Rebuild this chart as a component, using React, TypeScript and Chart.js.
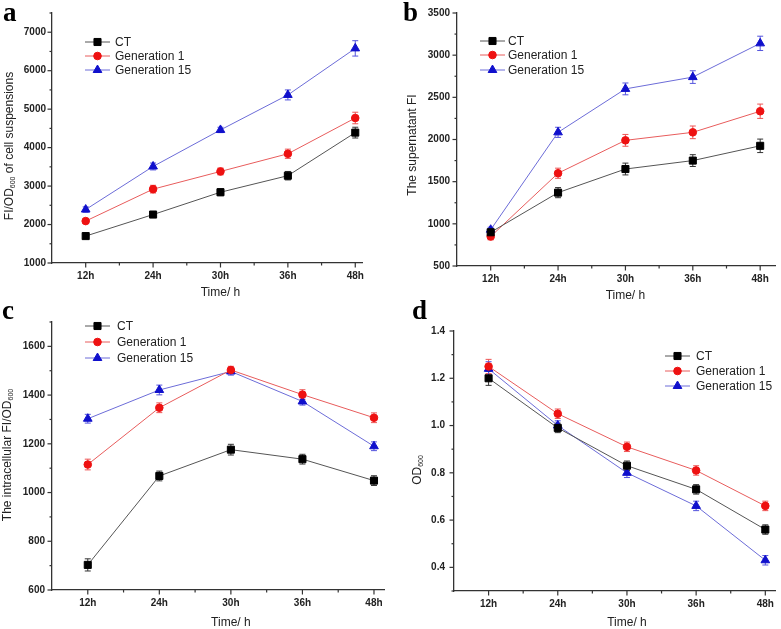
import React, { useEffect, useRef } from 'react';
import { Chart, registerables } from 'chart.js';

Chart.register(...registerables);

// ---------- data ----------
const categories = ['12h', '24h', '30h', '36h', '48h'];
const seriesNames = ['CT', 'Generation 1', 'Generation 15'];

// panel a: FI/OD600 of cell suspensions
const aCT = [1700, 2260, 2840, 3270, 4390];
const aCTErr = [60, 70, 90, 110, 140];
const aGen1 = [2090, 2920, 3380, 3840, 4770];
const aGen1Err = [60, 100, 90, 120, 150];
const aGen15 = [2390, 3510, 4460, 5370, 6580];
const aGen15Err = [70, 90, 70, 130, 200];

// panel b: supernatant FI
const bCT = [900, 1370, 1650, 1750, 1925];
const bCTErr = [40, 60, 70, 70, 80];
const bGen1 = [850, 1600, 1990, 2085, 2335];
const bGen1Err = [40, 60, 70, 75, 85];
const bGen15 = [930, 2085, 2600, 2740, 3140];
const bGen15Err = [30, 60, 70, 75, 85];

// panel c: intracellular FI/OD600
const cCT = [703, 1068, 1176, 1137, 1049];
const cCTErr = [25, 20, 22, 20, 20];
const cGen1 = [1115, 1348, 1503, 1402, 1307];
const cGen1Err = [22, 20, 15, 20, 20];
const cGen15 = [1303, 1421, 1497, 1374, 1190];
const cGen15Err = [18, 20, 15, 15, 18];

// panel d: OD600
const dCT = [1.2, 0.99, 0.83, 0.73, 0.56];
const dCTErr = [0.03, 0.02, 0.02, 0.02, 0.02];
const dGen1 = [1.25, 1.05, 0.91, 0.81, 0.66];
const dGen1Err = [0.03, 0.02, 0.02, 0.02, 0.02];
const dGen15 = [1.24, 1.0, 0.8, 0.66, 0.43];
const dGen15Err = [0.03, 0.02, 0.02, 0.02, 0.02];

// ---------- styles ----------
const FONT = '"Liberation Sans", Arial, sans-serif';
const lineColors = ['#555555', '#e85c5c', '#6c6cd8'];
const markerColors = ['#000000', '#ee1111', '#1010cc'];
const errColors = ['#333333', '#ee5555', '#5555dd'];
const pointStyles = ['rect', 'circle', 'triangle'];
const pointRadii = [5, 3.8, 5];

type Seg = { t: string; sub?: boolean };

interface PanelCfg {
  left: number;
  top: number;
  width: number;
  height: number;
  yWidth: number;
  xHeight: number;
  padTop: number;
  padRight: number;
  xMax: number;
  yMin: number;
  yMax: number;
  yStep: number;
  yTickPad: number;
  yLabel: (v: number) => string;
  series: number[][];
  errors: number[][];
  yTitle: Seg[];
  yTitlePos: { x: number; y: number };
  xTitleY: number;
  legend: { x: number; textX: number; ys: number[] };
}

const intLabel = (step: number) => (v: number) =>
  Math.abs(v / step - Math.round(v / step)) < 1e-6 ? String(Math.round(v)) : '';

const panels: PanelCfg[] = [
  {
    left: 0, top: 0, width: 390, height: 305,
    yWidth: 52, xHeight: 42, padTop: 13, padRight: 28, xMax: 4.1,
    yMin: 1000, yMax: 7500, yStep: 500, yTickPad: 2,
    yLabel: intLabel(1000),
    series: [aCT, aGen1, aGen15],
    errors: [aCTErr, aGen1Err, aGen15Err],
    yTitle: [{ t: 'FI/OD' }, { t: '600', sub: true }, { t: ' of cell suspensions' }],
    yTitlePos: { x: 10, y: 146 },
    xTitleY: 293,
    legend: { x: 85, textX: 115, ys: [42, 56, 70] },
  },
  {
    left: 390, top: 0, width: 391, height: 305,
    yWidth: 67, xHeight: 39, padTop: 13, padRight: 2, xMax: 4.22,
    yMin: 500, yMax: 3500, yStep: 250, yTickPad: 3,
    yLabel: intLabel(500),
    series: [bCT, bGen1, bGen15],
    errors: [bCTErr, bGen1Err, bGen15Err],
    yTitle: [{ t: 'The supernatant FI' }],
    yTitlePos: { x: 23, y: 145 },
    xTitleY: 296,
    legend: { x: 90, textX: 118, ys: [41, 55, 70] },
  },
  {
    left: 0, top: 305, width: 390, height: 324,
    yWidth: 52, xHeight: 39, padTop: 17, padRight: 2, xMax: 4.14,
    yMin: 600, yMax: 1700, yStep: 100, yTickPad: 3,
    yLabel: intLabel(200),
    series: [cCT, cGen1, cGen15],
    errors: [cCTErr, cGen1Err, cGen15Err],
    yTitle: [{ t: 'The intracellular FI/OD' }, { t: '600', sub: true }],
    yTitlePos: { x: 8, y: 150 },
    xTitleY: 318,
    legend: { x: 85, textX: 117, ys: [21, 37, 53] },
  },
  {
    left: 390, top: 305, width: 391, height: 324,
    yWidth: 64, xHeight: 38, padTop: 26, padRight: 3, xMax: 4.14,
    yMin: 0.3, yMax: 1.4, yStep: 0.1, yTickPad: 5,
    yLabel: (v: number) => (Math.abs(Math.round(v * 10) % 2) === 0 ? v.toFixed(1) : ''),
    series: [dCT, dGen1, dGen15],
    errors: [dCTErr, dGen1Err, dGen15Err],
    yTitle: [{ t: 'OD' }, { t: '600', sub: true }],
    yTitlePos: { x: 28, y: 165 },
    xTitleY: 318,
    legend: { x: 275, textX: 306, ys: [51, 66, 81] },
  },
];

// x tick positions: category indices and the half-steps between them
const xTickValues: number[] = [];
for (let i = -1; i < categories.length - 1; i++) {
  xTickValues.push(i + 0.5, i + 1);
}

function drawMarker(ctx: CanvasRenderingContext2D, style: string, x: number, y: number, r: number, color: string) {
  ctx.save();
  ctx.fillStyle = color;
  ctx.strokeStyle = color;
  ctx.lineWidth = 1;
  ctx.beginPath();
  if (style === 'rect') {
    const s = r * Math.SQRT1_2;
    ctx.rect(x - s, y - s, 2 * s, 2 * s);
  } else if (style === 'circle') {
    ctx.arc(x, y, r, 0, Math.PI * 2);
  } else {
    let rad = 0;
    ctx.moveTo(x + Math.sin(rad) * r, y - Math.cos(rad) * r);
    rad += (2 * Math.PI) / 3;
    ctx.lineTo(x + Math.sin(rad) * r, y - Math.cos(rad) * r);
    rad += (2 * Math.PI) / 3;
    ctx.lineTo(x + Math.sin(rad) * r, y - Math.cos(rad) * r);
    ctx.closePath();
  }
  ctx.fill();
  ctx.stroke();
  ctx.restore();
}

function makePlugin(cfg: PanelCfg) {
  return {
    id: 'panelDecor',
    beforeDatasetsDraw(chart: any) {
      const ctx: CanvasRenderingContext2D = chart.ctx;
      const xs = chart.scales.x;
      const ys = chart.scales.y;
      ctx.save();
      ctx.lineWidth = 1;
      cfg.series.forEach((vals, i) => {
        ctx.strokeStyle = errColors[i];
        vals.forEach((v, j) => {
          const e = cfg.errors[i][j];
          const x = xs.getPixelForValue(j);
          const y1 = ys.getPixelForValue(v + e);
          const y2 = ys.getPixelForValue(v - e);
          ctx.beginPath();
          ctx.moveTo(x, y1);
          ctx.lineTo(x, y2);
          ctx.moveTo(x - 3, y1);
          ctx.lineTo(x + 3, y1);
          ctx.moveTo(x - 3, y2);
          ctx.lineTo(x + 3, y2);
          ctx.stroke();
        });
      });
      ctx.restore();
    },
    afterDraw(chart: any) {
      const ctx: CanvasRenderingContext2D = chart.ctx;
      const xs = chart.scales.x;
      const ys = chart.scales.y;
      const area = chart.chartArea;
      ctx.save();
      // tick marks
      ctx.strokeStyle = '#333';
      ctx.lineWidth = 1.2;
      ys.ticks.forEach((t: any) => {
        const py = ys.getPixelForValue(t.value);
        const len = t.label ? 4.5 : 2.5;
        ctx.beginPath();
        ctx.moveTo(area.left - len, py);
        ctx.lineTo(area.left, py);
        ctx.stroke();
      });
      xs.ticks.forEach((t: any) => {
        const v = t.value;
        if (v < 0) return;
        const px = xs.getPixelForValue(v);
        const len = t.label ? 4.5 : 2.5;
        ctx.beginPath();
        ctx.moveTo(px, area.bottom);
        ctx.lineTo(px, area.bottom + len);
        ctx.stroke();
      });

      // x title
      ctx.fillStyle = '#222';
      ctx.font = `12px ${FONT}`;
      ctx.textAlign = 'center';
      ctx.textBaseline = 'middle';
      ctx.fillText('Time/ h', xs.getPixelForValue(2), cfg.xTitleY);

      // y title with subscripts
      ctx.save();
      ctx.translate(cfg.yTitlePos.x, cfg.yTitlePos.y);
      ctx.rotate(-Math.PI / 2);
      ctx.textAlign = 'left';
      ctx.textBaseline = 'middle';
      const fonts = (s: Seg) => (s.sub ? `7px ${FONT}` : `12px ${FONT}`);
      let total = 0;
      cfg.yTitle.forEach((s) => {
        ctx.font = fonts(s);
        total += ctx.measureText(s.t).width;
      });
      let cx = -total / 2;
      cfg.yTitle.forEach((s) => {
        ctx.font = fonts(s);
        ctx.fillText(s.t, cx, s.sub ? 3.5 : 0);
        cx += ctx.measureText(s.t).width;
      });
      ctx.restore();

      // legend
      const lg = cfg.legend;
      seriesNames.forEach((name, i) => {
        const y = lg.ys[i];
        ctx.strokeStyle = lineColors[i];
        ctx.lineWidth = 1;
        ctx.beginPath();
        ctx.moveTo(lg.x, y);
        ctx.lineTo(lg.x + 25, y);
        ctx.stroke();
        drawMarker(ctx, pointStyles[i], lg.x + 12.5, y, pointRadii[i], markerColors[i]);
        ctx.fillStyle = '#222';
        ctx.font = `12px ${FONT}`;
        ctx.textAlign = 'left';
        ctx.textBaseline = 'middle';
        ctx.fillText(name, lg.textX, y + 0.5);
      });
      ctx.restore();
    },
  };
}

function Panel({ cfg }: { cfg: PanelCfg }) {
  const ref = useRef<HTMLCanvasElement | null>(null);
  useEffect(() => {
    if (!ref.current) return;
    const tickFont = { family: FONT, size: 10, weight: 'bold' as const };
    const chart = new Chart(ref.current, {
      type: 'line',
      data: {
        datasets: cfg.series.map((vals, i) => ({
          label: seriesNames[i],
          data: vals.map((v, j) => ({ x: j, y: v })),
          borderColor: lineColors[i],
          borderWidth: 1,
          backgroundColor: markerColors[i],
          pointStyle: pointStyles[i] as any,
          pointRadius: pointRadii[i],
          pointBackgroundColor: markerColors[i],
          pointBorderColor: markerColors[i],
          pointBorderWidth: 1,
          tension: 0,
          fill: false,
        })),
      },
      options: {
        animation: false,
        responsive: false,
        maintainAspectRatio: false,
        events: [],
        layout: { padding: { left: 0, top: cfg.padTop, right: cfg.padRight, bottom: 0 } },
        plugins: { legend: { display: false }, tooltip: { enabled: false } },
        scales: {
          x: {
            type: 'linear',
            min: -0.5,
            max: cfg.xMax,
            afterBuildTicks: (s: any) => {
              s.ticks = xTickValues.map((v) => ({ value: v }));
            },
            afterFit: (s: any) => {
              s.height = cfg.xHeight;
            },
            grid: { display: true, drawOnChartArea: false, drawTicks: true, tickLength: 4, color: 'rgba(0,0,0,0)' },
            border: { display: true, color: '#333', width: 1.3 },
            ticks: {
              autoSkip: false,
              maxRotation: 0,
              padding: 3,
              color: '#222',
              font: tickFont,
              callback: (v: any) => {
                const n = Number(v);
                const r = Math.round(n);
                return Math.abs(n - r) < 1e-6 && r >= 0 && r < categories.length ? categories[r] : '';
              },
            },
          },
          y: {
            type: 'linear',
            min: cfg.yMin,
            max: cfg.yMax,
            afterFit: (s: any) => {
              s.width = cfg.yWidth;
            },
            grid: { display: true, drawOnChartArea: false, drawTicks: true, tickLength: 4, color: 'rgba(0,0,0,0)' },
            border: { display: true, color: '#333', width: 1.3 },
            ticks: {
              stepSize: cfg.yStep,
              autoSkip: false,
              padding: cfg.yTickPad,
              color: '#222',
              font: tickFont,
              callback: (v: any) => cfg.yLabel(Number(v)),
            },
          },
        },
      },
      plugins: [makePlugin(cfg)],
    } as any);
    return () => chart.destroy();
  }, [cfg]);
  return (
    <canvas
      ref={ref}
      width={cfg.width}
      height={cfg.height}
      style={{ position: 'absolute', left: cfg.left, top: cfg.top, width: cfg.width, height: cfg.height }}
    />
  );
}

const letterStyle: React.CSSProperties = {
  position: 'absolute',
  font: 'bold 27px "Liberation Serif", "Times New Roman", serif',
  lineHeight: '27px',
  color: '#000',
};

export default function App() {
  return (
    <div style={{ position: 'absolute', left: 0, top: 0, width: 781, height: 629, background: '#fff', overflow: 'hidden' }}>
      {panels.map((p, i) => (
        <Panel key={i} cfg={p} />
      ))}
      <div style={{ ...letterStyle, left: 3, top: -1 }}>a</div>
      <div style={{ ...letterStyle, left: 403, top: -1 }}>b</div>
      <div style={{ ...letterStyle, left: 2, top: 297 }}>c</div>
      <div style={{ ...letterStyle, left: 412, top: 297 }}>d</div>
    </div>
  );
}
